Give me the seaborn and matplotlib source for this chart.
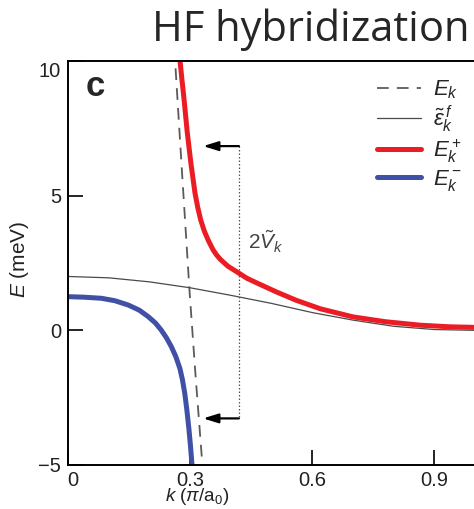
import numpy as np
import pandas as pd
import matplotlib
matplotlib.use("Agg")
import matplotlib.pyplot as plt
import matplotlib.transforms as mtransforms
import seaborn as sns

# ---- data ----
k_bare = [0.258, 0.263, 0.280, 0.299, 0.313, 0.328, 0.331]
E_bare = [11.2, 10.04, 5.9, 1.37, -1.6, -4.56, -5.2]

k_f = [0.0, 0.1, 0.2, 0.3, 0.4, 0.5, 0.6, 0.7, 0.8, 0.9, 1.0]
E_f = [2.0, 1.95, 1.8, 1.58, 1.3, 1.0, 0.66, 0.38, 0.15, 0.03, 0.0]

k_plus = [0.272, 0.275, 0.280, 0.285, 0.293, 0.302, 0.312, 0.319, 0.326,
          0.335, 0.345, 0.356, 0.365, 0.374, 0.393, 0.415, 0.440, 0.464,
          0.513, 0.560, 0.620, 0.700, 0.780, 0.866, 0.940, 1.0]
E_plus = [10.45, 10.04, 9.3, 8.6, 7.35, 6.2, 5.1, 4.55, 4.1,
          3.68, 3.33, 3.0, 2.8, 2.64, 2.38, 2.17, 1.93, 1.76,
          1.42, 1.12, 0.80, 0.50, 0.32, 0.19, 0.13, 0.11]

k_minus = [0.0, 0.04, 0.082, 0.115, 0.148, 0.175, 0.197, 0.215, 0.229,
           0.242, 0.254, 0.265, 0.275, 0.281, 0.287, 0.292, 0.297, 0.301,
           0.305, 0.308]
E_minus = [1.25, 1.23, 1.19, 1.10, 0.94, 0.75, 0.51, 0.27, 0.01,
           -0.28, -0.61, -0.98, -1.42, -1.82, -2.35, -2.95, -3.65, -4.3,
           -5.06, -5.6]

labels = [r"$E_k$", r"$\tilde{\varepsilon}^{\,f}_k$", r"$E^+_k$", r"$E^-_k$"]
x_ticks = [0, 0.3, 0.6, 0.9]
x_ticklabels = ["0", "0.3", "0.6", "0.9"]
y_ticks = [-5, 0, 5, 10]
y_ticklabels = ["\u22125", "0", "5", "10"]
arrow_k = 0.42
arrow_tip_k = 0.332
arrow_E = [6.84, -3.27]

# ---- style ----
sns.set_style("ticks")
plt.rcParams['font.family'] = ['Liberation Sans', 'DejaVu Sans']
plt.rcParams['mathtext.fontset'] = 'custom'
plt.rcParams['mathtext.rm'] = 'Liberation Sans'
plt.rcParams['mathtext.it'] = 'Liberation Sans:italic'
plt.rcParams['mathtext.bf'] = 'Liberation Sans:bold'

W, H = 474, 509
fig = plt.figure(figsize=(W / 100, H / 100), dpi=100)
ax = fig.add_axes([68 / W, (H - 465) / H, 407 / W, 404 / H])

red = "#ec1c24"
blue = "#3f50a6"

df_bare = pd.DataFrame({"k": k_bare, "E": E_bare})
df_f = pd.DataFrame({"k": k_f, "E": E_f})
df_p = pd.DataFrame({"k": k_plus, "E": E_plus})
df_m = pd.DataFrame({"k": k_minus, "E": E_minus})

sns.lineplot(data=df_bare, x="k", y="E", ax=ax, color="#5a5a5a", lw=1.3,
             label=labels[0]).lines[-1].set_dashes([6.5, 4.5])
sns.lineplot(data=df_f, x="k", y="E", ax=ax, color="#4a4a4a", lw=0.9,
             label=labels[1])
sns.lineplot(data=df_p, x="k", y="E", ax=ax, color=red, lw=3.6,
             label=labels[2])
sns.lineplot(data=df_m, x="k", y="E", ax=ax, color=blue, lw=3.6,
             label=labels[3])
for ln in ax.lines:
    ln.set_solid_joinstyle("round")

# annotation: dotted gap marker with arrows
ax.plot([arrow_k, arrow_k], arrow_E, ls=(0, (1.2, 1.6)), color="#555555", lw=0.9)
for e in arrow_E:
    ax.annotate("", xy=(arrow_tip_k, e), xytext=(arrow_k, e),
                arrowprops=dict(arrowstyle="-|>,head_length=0.9,head_width=0.28",
                                color="black", lw=1.6, shrinkA=0, shrinkB=0))
ax.text(0.442, 3.3, r"$2\tilde{V}_k$", fontsize=15, color="#444444",
        ha="left", va="center")

ax.text(0.067, 9.05, "c", fontsize=25, fontweight="bold", ha="center", va="center")

ax.set_xlim(0, 1.0)
ax.set_ylim(-5, 10)
ax.set_xticks(x_ticks)
ax.set_xticklabels(x_ticklabels)
ax.set_yticks(y_ticks)
ax.set_yticklabels(y_ticklabels)
ax.tick_params(direction="in", length=11, width=1.2, labelsize=14.5, color="black",
               labelcolor="#222222")
ax.tick_params(axis="x", pad=4)
ax.tick_params(axis="y", pad=5)
for s in ["left", "bottom", "top"]:
    ax.spines[s].set_linewidth(1.4)
    ax.spines[s].set_color("black")
ax.spines["right"].set_visible(False)

# small offsets of the end tick labels as in the reference
xl = ax.get_xticklabels()
xl[0].set_transform(xl[0].get_transform() +
                    mtransforms.ScaledTranslation(5 / 100, 0, fig.dpi_scale_trans))
yl = ax.get_yticklabels()
yl[-1].set_transform(yl[-1].get_transform() +
                     mtransforms.ScaledTranslation(0, -8 / 100, fig.dpi_scale_trans))

ax.set_xlabel(r"$k$ ($\pi$/a$_0$)", fontsize=13.5, color="#222222")
ax.xaxis.label.set_va("center")
ax.xaxis.set_label_coords(0.317, -0.077)
ax.set_ylabel(r"$E$ (meV)", fontsize=15, color="#222222")
ax.yaxis.label.set_va("center")
ax.yaxis.set_label_coords(-0.118, 0.508)

leg = ax.legend(loc="upper right", bbox_to_anchor=(1.0, 0.99), frameon=False,
                fontsize=16, handlelength=2.0, handletextpad=0.5,
                labelspacing=0.12, borderaxespad=0.2)

fig.text(470 / W, 1 - 30 / H, "HF hybridization", fontsize=30, family="Open Sans",
         ha="right", va="center")

fig.savefig("out.png", dpi=100)
